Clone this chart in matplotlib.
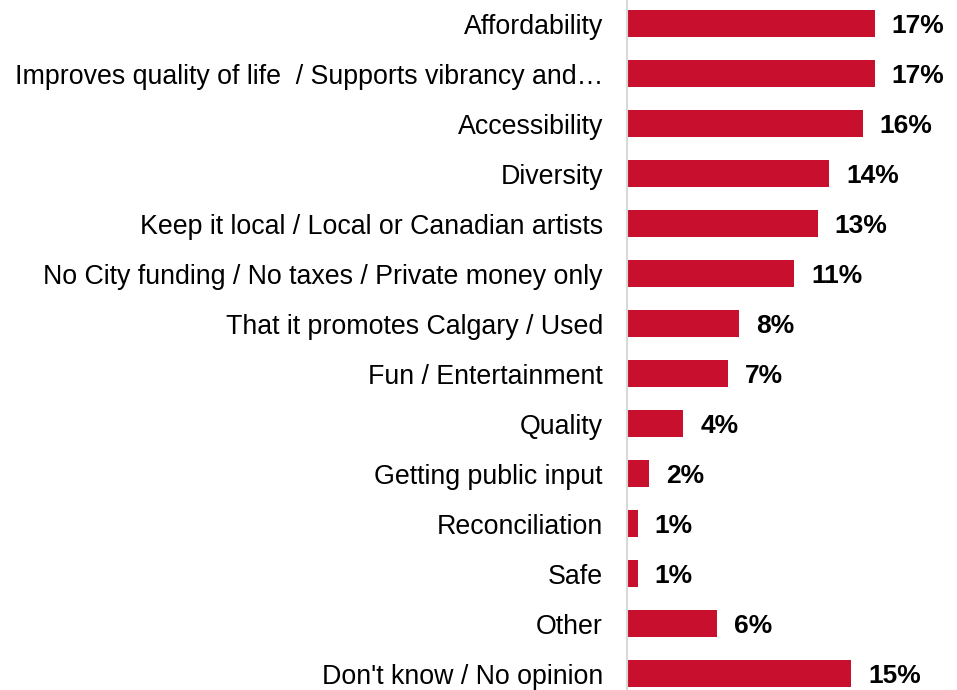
import matplotlib.pyplot as plt
import numpy as np

plt.rcParams['font.family'] = ['Liberation Sans', 'DejaVu Sans']

categories = ["Affordability",
              "Improves quality of life  / Supports vibrancy and\u2026",
              "Accessibility",
              "Diversity",
              "Keep it local / Local or Canadian artists",
              "No City funding / No taxes / Private money only",
              "That it promotes Calgary / Used",
              "Fun / Entertainment",
              "Quality",
              "Getting public input",
              "Reconciliation",
              "Safe",
              "Other",
              "Don't know / No opinion"]
values = [17.0, 17.0, 16.2, 13.9, 13.1, 11.5, 7.7, 6.95, 3.9, 1.54, 0.77, 0.77, 6.2, 15.4]
labels = ["17%", "17%", "16%", "14%", "13%", "11%", "8%", "7%", "4%", "2%", "1%", "1%", "6%", "15%"]

W, H = 957, 690
fig = plt.figure(figsize=(W / 100, H / 100), dpi=100)
left = 626.5 / W
ax = fig.add_axes([left, -8.5 / H, 1 - left, 700 / H])

y = np.arange(len(categories))
ax.barh(y, values, height=0.55, color='#c8102e')
ax.set_ylim(len(categories) - 0.5, -0.5)
ax.set_xlim(0, (W - 626.5) / 14.6)

for yi, v, lab in zip(y, values, labels):
    ax.text(v + 1.15, yi, lab, va='center_baseline', ha='left', fontsize=19,
            fontweight='bold', color='black')

ax.set_yticks(y)
ax.set_yticklabels(categories, fontsize=19.3)
ax.tick_params(axis='y', length=0, pad=17)
ax.set_xticks([])
for s in ['top', 'right', 'bottom']:
    ax.spines[s].set_visible(False)
ax.spines['left'].set_color('#d9d9d9')
ax.spines['left'].set_linewidth(1.5)

fig.savefig('out.png', dpi=100)
